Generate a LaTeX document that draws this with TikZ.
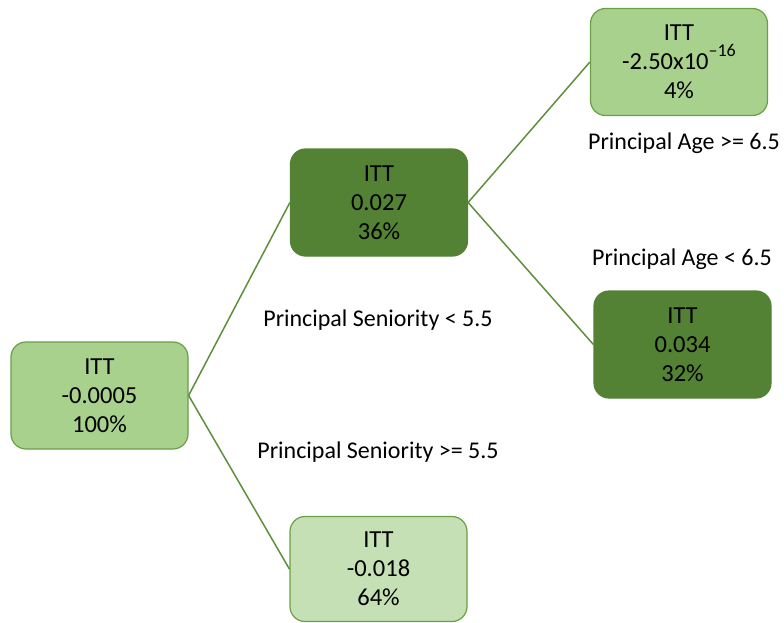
\documentclass[tikz,border=0pt]{standalone}
\usepackage{fontspec}
\setmainfont{Carlito}
\definecolor{lightfill}{HTML}{A9D18E}
\definecolor{palefill}{HTML}{C5E0B4}
\definecolor{darkfill}{HTML}{548235}
\definecolor{edgegreen}{HTML}{6A9F45}
\definecolor{linegreen}{HTML}{5E8F3A}
\begin{document}
\begin{tikzpicture}[x=1pt,y=-1pt,
  treenode/.style={draw=edgegreen, line width=1.2pt, rounded corners=15pt,
    minimum width=177pt, minimum height=107pt, align=center, inner sep=0pt,
    font=\fontsize{24.5}{29}\selectfont},
  lightnode/.style={treenode, fill=lightfill},
  palenode/.style={treenode, fill=palefill},
  darknode/.style={treenode, fill=darkfill, draw=darkfill},
  conn/.style={draw=linegreen, line width=1.5pt},
  lab/.style={font=\fontsize{24}{28}\selectfont, inner sep=0pt}]
\useasboundingbox (0,0) rectangle (784,623);
\node[lightnode] (root) at (99.5,395.5) {ITT\\-0.0005\\100\%};
\node[darknode] (mid) at (379,202.5) {ITT\\0.027\\36\%};
\node[palenode, minimum height=105pt] (bot) at (378.5,569) {ITT\\-0.018\\64\%};
\node[lightnode] (tr) at (679,62) {ITT\\-2.50x10\raisebox{1.1ex}{\fontsize{18}{18}\selectfont \textendash16}\\4\%};
\node[darknode] (rt) at (682.5,344.5) {ITT\\0.034\\32\%};
\draw[conn] (root.east) -- (mid.west);
\draw[conn] (root.east) -- (bot.west);
\draw[conn] (mid.east) -- (tr.west);
\draw[conn] (mid.east) -- (rt.west);
\node[lab] (l1) at (684,143) {Principal Age >= 6.5};
\node[lab] (l2) at (682,259) {Principal Age < 6.5};
\node[lab] (l3) at (378,320) {Principal Seniority < 5.5};
\node[lab] (l4) at (378,452) {Principal Seniority >= 5.5};
\end{tikzpicture}
\end{document}
